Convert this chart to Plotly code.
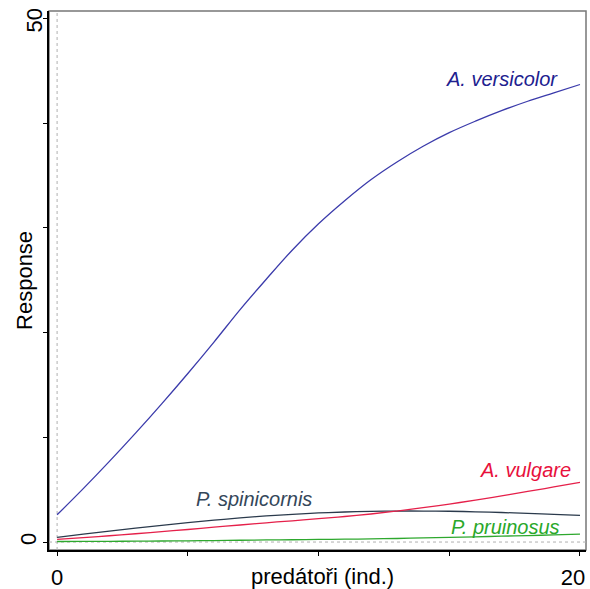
import plotly.graph_objects as go

x_vals = list(range(0, 21))
versicolor = [2.6, 5.1, 7.7, 10.4, 13.2, 16.1, 19.1, 22.2, 25.1, 27.9, 30.4,
              32.6, 34.6, 36.3, 37.8, 39.1, 40.2, 41.2, 42.1, 42.9, 43.7]
spinicornis = [0.45, 0.75, 1.05, 1.33, 1.6, 1.85, 2.09, 2.3, 2.49, 2.65, 2.78,
               2.87, 2.93, 2.96, 2.96, 2.94, 2.89, 2.82, 2.74, 2.65, 2.55]
vulgare = [0.25, 0.42, 0.6, 0.79, 0.99, 1.2, 1.42, 1.63, 1.84, 2.03, 2.23,
           2.44, 2.68, 2.96, 3.28, 3.63, 4.0, 4.41, 4.83, 5.26, 5.7]
pruinosus = [0.05, 0.06, 0.07, 0.08, 0.1, 0.12, 0.14, 0.17, 0.2, 0.22, 0.25,
             0.27, 0.3, 0.34, 0.39, 0.44, 0.5, 0.56, 0.62, 0.68, 0.75]

series_names = ["A. versicolor", "P. spinicornis", "A. vulgare", "P. pruinosus"]
series_values = [versicolor, spinicornis, vulgare, pruinosus]
line_colors = ["#3b3bab", "#2b3a4c", "#e5204a", "#2ea82e"]
text_colors = ["#20208f", "#34475a", "#e8103c", "#2aa82a"]
label_x = [17.0, 7.55, 17.93, 17.15]
label_y = [44.2, 4.1, 6.85, 1.45]

x_tickvals = [0, 5, 10, 15, 20]
x_ticktext = ["0", "", "", "", ""]
y_tickvals = [0, 10, 20, 30, 40, 50]
y_ticktext = ["0", "", "", "", "", ""]
x_range = [-0.31, 20.23]
y_range = [-0.76, 50.72]

FONT = "Liberation Sans, Arial, sans-serif"

fig = go.Figure()
for name, vals, col in zip(series_names, series_values, line_colors):
    fig.add_trace(go.Scatter(x=x_vals, y=vals, mode="lines", name=name,
                             line=dict(color=col, width=1.3, shape="spline"),
                             showlegend=False))
# invisible anchors so the overlay axes are drawn
fig.add_trace(go.Scatter(x=[None], y=[None], xaxis="x3", yaxis="y3",
                         showlegend=False, hoverinfo="skip"))

for name, lx, ly, tc in zip(series_names, label_x, label_y, text_colors):
    fig.add_annotation(x=lx, y=ly, text="<i>%s</i>" % name, showarrow=False,
                       xanchor="center", yanchor="middle",
                       font=dict(family=FONT, size=20, color=tc))

# axis titles
fig.add_annotation(xref="paper", yref="paper", x=-0.0447, y=0.501,
                   text="Response", textangle=-90, showarrow=False,
                   xanchor="center", yanchor="middle",
                   font=dict(family=FONT, size=22, color="black"))
fig.add_annotation(xref="paper", yref="paper", x=0.509, y=-0.050,
                   text="predátoři (ind.)", showarrow=False,
                   xanchor="center", yanchor="middle",
                   font=dict(family=FONT, size=22, color="black"))

# frame and dotted zero lines
fig.add_shape(type="rect", xref="paper", yref="paper", x0=0, x1=1, y0=0, y1=1,
              line=dict(color="#777777", width=1.5), layer="below")
fig.add_shape(type="line", xref="x", yref="paper", x0=0, x1=0, y0=0, y1=1,
              line=dict(color="#b0b0b0", width=1, dash="dot"), layer="below")
fig.add_shape(type="line", xref="paper", yref="y", x0=0, x1=1, y0=0, y1=0,
              line=dict(color="#b0b0b0", width=1, dash="dot"), layer="below")

tickfont = dict(family=FONT, size=22, color="black")
common = dict(showgrid=False, zeroline=False, automargin=False,
              ticklabeloverflow="allow")
fig.update_layout(
    width=590, height=589,
    margin=dict(l=49, r=4, t=11, b=39),
    plot_bgcolor="white", paper_bgcolor="white",
    xaxis=dict(range=x_range, tickvals=x_tickvals, ticktext=x_ticktext,
               ticks="outside", ticklen=4, tickcolor="black", tickwidth=1,
               showline=True, linecolor="black", linewidth=2,
               tickfont=tickfont, ticklabelstandoff=3, **common),
    xaxis2=dict(range=x_range, overlaying="x", anchor="y", side="bottom",
                tickvals=x_tickvals, ticks="inside", ticklen=3,
                tickcolor="black", showticklabels=False, showline=False,
                **common),
    xaxis3=dict(range=x_range, overlaying="x", anchor="y", side="bottom",
                tickvals=[20], ticktext=["20"], ticks="", showline=False,
                tickfont=tickfont, ticklabelstandoff=12, ticklabelshift=-7,
                **common),
    yaxis=dict(range=y_range, tickvals=y_tickvals, ticktext=y_ticktext,
               tickangle=-90,
               ticks="outside", ticklen=4, tickcolor="black", tickwidth=1,
               showline=True, linecolor="black", linewidth=2,
               tickfont=tickfont, ticklabelstandoff=-2, **common),
    yaxis2=dict(range=y_range, overlaying="y", anchor="x", side="left",
                tickvals=y_tickvals, ticks="inside", ticklen=3,
                tickcolor="black", showticklabels=False, showline=False,
                **common),
    yaxis3=dict(range=y_range, overlaying="y", anchor="x", side="left",
                tickvals=[50], ticktext=["50"], tickangle=-90, ticks="",
                showline=False, tickfont=tickfont, ticklabelstandoff=2,
                ticklabelshift=5, **common),
)

fig.write_html("out.html")
